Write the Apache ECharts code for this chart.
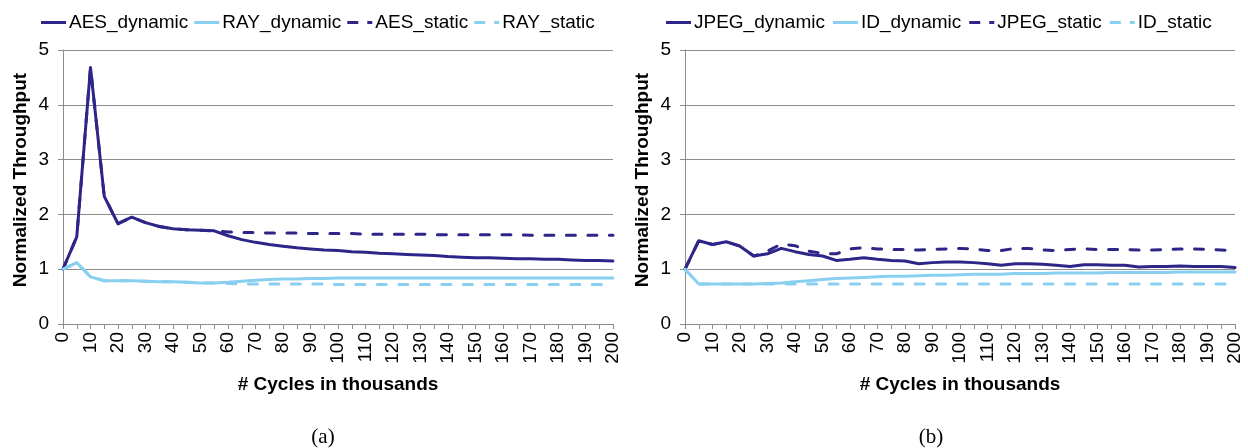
<!DOCTYPE html>
<html>
<head>
<meta charset="utf-8">
<script src="https://cdn.jsdelivr.net/npm/echarts@6/dist/echarts.min.js"></script>
<style>
  html, body { margin: 0; padding: 0; background: #fff; }
  #chart { width: 1248px; height: 448px; }
</style>
</head>
<body>
<div id="chart"></div>
<script>
// Cycles (thousands), sampled every 5
const cycles = ['0','5','10','15','20','25','30','35','40','45','50','55','60','65','70','75','80','85','90','95','100',
  '105','110','115','120','125','130','135','140','145','150','155','160','165','170','175','180','185','190','195','200'];

// Panel (a)
const aesDynamic = [1.00,1.59,4.68,2.33,1.83,1.95,1.85,1.78,1.74,1.72,1.71,1.70,1.61,1.54,1.49,1.45,1.42,1.39,1.37,1.35,
  1.34,1.32,1.31,1.29,1.28,1.27,1.26,1.25,1.23,1.22,1.21,1.21,1.20,1.19,1.19,1.18,1.18,1.17,1.16,1.16,1.15];
const rayDynamic = [1.00,1.12,0.86,0.79,0.79,0.79,0.78,0.77,0.77,0.76,0.75,0.75,0.76,0.78,0.80,0.81,0.82,0.82,0.83,0.83,
  0.84,0.84,0.84,0.84,0.84,0.84,0.84,0.84,0.84,0.84,0.84,0.84,0.84,0.84,0.84,0.84,0.84,0.84,0.84,0.84,0.84];
const aesStatic = [1.00,1.59,4.68,2.33,1.83,1.95,1.85,1.78,1.74,1.72,1.71,1.70,1.68,1.67,1.67,1.66,1.66,1.66,1.65,1.65,
  1.65,1.65,1.64,1.64,1.64,1.64,1.64,1.63,1.63,1.63,1.63,1.63,1.63,1.63,1.62,1.62,1.62,1.62,1.62,1.62,1.62];
const rayStatic = [1.00,1.12,0.86,0.79,0.79,0.79,0.78,0.77,0.77,0.76,0.75,0.75,0.74,0.73,0.73,0.73,0.73,0.73,0.73,0.73,
  0.72,0.72,0.72,0.72,0.72,0.72,0.72,0.72,0.72,0.72,0.72,0.72,0.72,0.72,0.72,0.72,0.72,0.72,0.72,0.72,0.72];

// Panel (b)
const jpegDynamic = [1.00,1.52,1.45,1.50,1.42,1.24,1.28,1.38,1.32,1.27,1.24,1.16,1.18,1.21,1.18,1.16,1.15,1.10,1.12,1.13,
  1.13,1.12,1.10,1.07,1.10,1.10,1.09,1.07,1.05,1.08,1.08,1.07,1.07,1.04,1.05,1.05,1.06,1.05,1.05,1.05,1.03];
const idDynamic = [1.00,0.73,0.73,0.73,0.73,0.73,0.74,0.75,0.77,0.79,0.81,0.83,0.84,0.85,0.86,0.87,0.87,0.88,0.89,0.89,
  0.90,0.91,0.91,0.91,0.92,0.92,0.92,0.93,0.93,0.93,0.93,0.94,0.94,0.94,0.94,0.94,0.95,0.95,0.95,0.95,0.95];
const jpegStatic = [1.00,1.52,1.45,1.50,1.42,1.24,1.33,1.46,1.43,1.33,1.29,1.28,1.37,1.39,1.37,1.36,1.36,1.35,1.36,1.37,
  1.38,1.37,1.34,1.34,1.38,1.38,1.35,1.34,1.36,1.37,1.36,1.36,1.36,1.35,1.35,1.36,1.37,1.37,1.36,1.35,1.34];
const idStatic = [1.00,0.73,0.73,0.73,0.73,0.73,0.73,0.73,0.73,0.73,0.73,0.73,0.73,0.73,0.73,0.73,0.73,0.73,0.73,0.73,
  0.73,0.73,0.73,0.73,0.73,0.73,0.73,0.73,0.73,0.73,0.73,0.73,0.73,0.73,0.73,0.73,0.73,0.73,0.73,0.73,0.73];

const yTicks = { min: 0, max: 5, interval: 1 };
const xTitle = '# Cycles in thousands';
const yTitle = 'Normalized Throughput';

const DARK = '#2D2587';
const LIGHT = '#89CFEF';
const GRIDC = '#8C8C8C';
const FONT = '"Liberation Sans", Arial, sans-serif';
const DASH = [9, 12.5];

// Legend keys: a solid bar for the dynamic runs, dash + dot for the static ones
const SOLID_ICON = 'path://M0,0H25V3H0Z';
const DASH_ICON = 'path://M0,0H11V3H0Z M20,0H25V3H20Z';

function xAxisFor(gridIndex) {
  return {
    type: 'category', gridIndex, data: cycles, boundaryGap: false,
    name: xTitle, nameLocation: 'middle', nameGap: 51,
    nameTextStyle: { fontFamily: FONT, fontSize: 19, fontWeight: 'bold', color: '#000' },
    axisLine: { lineStyle: { color: GRIDC, width: 1 } },
    axisTick: { show: true, interval: 0, length: 5, lineStyle: { color: GRIDC } },
    axisLabel: { interval: 1, rotate: 90, margin: 8, fontFamily: FONT, fontSize: 19, color: '#000' },
    splitLine: { show: false }
  };
}
function yAxisFor(gridIndex) {
  return {
    type: 'value', gridIndex, min: yTicks.min, max: yTicks.max, interval: yTicks.interval,
    axisLine: { show: true, lineStyle: { color: GRIDC, width: 1 } },
    axisTick: { show: true, length: 5, lineStyle: { color: GRIDC } },
    axisLabel: { margin: 14, fontFamily: FONT, fontSize: 19, color: '#000' },
    splitLine: { lineStyle: { color: GRIDC, width: 1 } }
  };
}
function lineSeries(name, data, color, dashed, axisIndex) {
  return {
    name, type: 'line', data, xAxisIndex: axisIndex, yAxisIndex: axisIndex,
    symbol: 'none', showSymbol: false, smooth: false, animation: false,
    z: dashed ? 2 : 3,
    lineStyle: { color, width: 3, type: dashed ? DASH : 'solid', cap: 'round', join: 'round' },
    itemStyle: { color }
  };
}
function legendItems(names) {
  return names.map(function (n, i) {
    return { name: n, icon: i < 2 ? SOLID_ICON : DASH_ICON };
  });
}
const legendBase = {
  top: 8, itemWidth: 25, itemHeight: 3,
  textStyle: { fontFamily: FONT, fontSize: 19, color: '#000', padding: [0, 0, 0, -2] }
};

const chart = echarts.init(document.getElementById('chart'), null, { renderer: 'canvas' });
chart.setOption({
  backgroundColor: '#fff',
  animation: false,
  legend: [
    Object.assign({}, legendBase, { left: 36, itemGap: 6,
      data: legendItems(['AES_dynamic', 'RAY_dynamic', 'AES_static', 'RAY_static']) }),
    Object.assign({}, legendBase, { left: 661, itemGap: 8,
      data: legendItems(['JPEG_dynamic', 'ID_dynamic', 'JPEG_static', 'ID_static']) })
  ],
  grid: [
    { left: 63, right: 635, top: 50, bottom: 124 },
    { left: 685, right: 13, top: 50, bottom: 124 }
  ],
  xAxis: [xAxisFor(0), xAxisFor(1)],
  yAxis: [yAxisFor(0), yAxisFor(1)],
  series: [
    lineSeries('AES_dynamic', aesDynamic, DARK, false, 0),
    lineSeries('RAY_dynamic', rayDynamic, LIGHT, false, 0),
    lineSeries('AES_static', aesStatic, DARK, true, 0),
    lineSeries('RAY_static', rayStatic, LIGHT, true, 0),
    lineSeries('JPEG_dynamic', jpegDynamic, DARK, false, 1),
    lineSeries('ID_dynamic', idDynamic, LIGHT, false, 1),
    lineSeries('JPEG_static', jpegStatic, DARK, true, 1),
    lineSeries('ID_static', idStatic, LIGHT, true, 1)
  ],
  graphic: [
    { type: 'text', x: 21, y: 180, rotation: Math.PI / 2,
      style: { text: yTitle, align: 'center', verticalAlign: 'middle',
        font: 'bold 19px ' + FONT, fill: '#000' } },
    { type: 'text', x: 643, y: 180, rotation: Math.PI / 2,
      style: { text: yTitle, align: 'center', verticalAlign: 'middle',
        font: 'bold 19px ' + FONT, fill: '#000' } },
    { type: 'text', x: 323, y: 437,
      style: { text: '(a)', align: 'center', verticalAlign: 'middle',
        font: '21px "Liberation Serif", "Times New Roman", serif', fill: '#000' } },
    { type: 'text', x: 931, y: 437,
      style: { text: '(b)', align: 'center', verticalAlign: 'middle',
        font: '21px "Liberation Serif", "Times New Roman", serif', fill: '#000' } }
  ]
});
</script>
</body>
</html>
